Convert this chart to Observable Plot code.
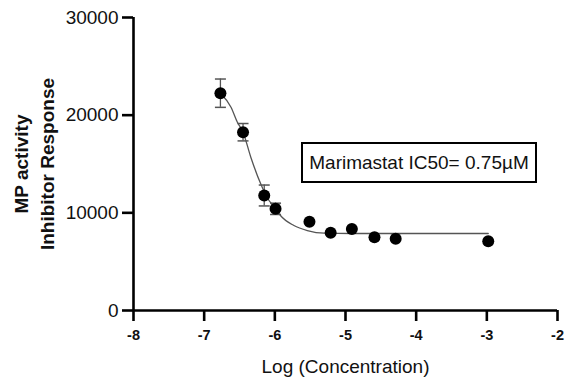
<!DOCTYPE html>
<html>
<head>
<meta charset="utf-8">
<script src="https://cdn.jsdelivr.net/npm/d3@7"></script>
<script src="https://cdn.jsdelivr.net/npm/@observablehq/plot@0.6"></script>
<style>
  html, body { margin: 0; padding: 0; background: #fff; }
  #wrap { position: relative; width: 565px; height: 381px; font-family: "Liberation Sans", Arial, sans-serif; }
  #note {
    position: absolute; left: 301px; top: 142px; width: 232px; height: 37px;
    border: 2px solid #000; display: flex; align-items: center; justify-content: center;
    font-size: 19px; color: #111; background: #fff; white-space: nowrap;
  }
</style>
</head>
<body>
<div id="wrap"></div>
<script>
// Measured points (log concentration, response, SEM)
const logConc  = [-6.77, -6.45, -6.15, -5.99, -5.51, -5.21, -4.91, -4.59, -4.29, -2.98];
const response = [22250, 18255, 11775, 10410, 9080, 7955, 8345, 7505, 7340, 7095];
const sem      = [1450, 890, 1070, 580, 0, 0, 0, 0, 0, 0];

// Fitted curve
const curveX = [-6.77, -6.62, -6.53, -6.45, -6.34, -6.20, -6.11, -5.99, -5.92, -5.73, -5.54, -5.30, -4.92, -2.98];
const curveY = [22250, 20815, 19280, 18255, 15695, 12970, 11570, 10445, 9725, 8705, 8190, 7915, 7885, 7885];

const xTicks = [-8, -7, -6, -5, -4, -3, -2];
const yTicks = [0, 10000, 20000, 30000];

const yTitle = "MP activity\nInhibitor Response";
const xTitle = "Log (Concentration)";
const noteText = "Marimastat IC50= 0.75\u00B5M";

const pts = logConc.map((x, i) => ({x, y: response[i], e: sem[i]}));
const errPts = pts.filter(d => d.e > 0);
const curve = curveX.map((x, i) => ({x, y: curveY[i]}));

const capSymbol = {
  draw(ctx, size) {
    const r = Math.sqrt(size / Math.PI);
    ctx.moveTo(-r, 0);
    ctx.lineTo(r, 0);
  }
};

const chart = Plot.plot({
  width: 565,
  height: 381,
  marginLeft: 133,
  marginRight: 8,
  marginTop: 17,
  marginBottom: 71,
  style: {fontFamily: "'Liberation Sans', Arial, sans-serif", fontSize: "19px", color: "#111", background: "#fff", overflow: "visible"},
  x: {domain: [-8, -2]},
  y: {domain: [0, 30000]},
  marks: [
    Plot.axisY({ticks: yTicks, tickSize: 11, tickPadding: 4, strokeWidth: 2.6, stroke: "#000", tickFormat: d => String(d), label: null, fontSize: 19}),
    Plot.axisX({ticks: xTicks, tickSize: 11, tickPadding: 8, strokeWidth: 2.6, stroke: "#000", tickFormat: d => String(d), label: null, fontSize: 14.5, fontWeight: "bold"}),
    Plot.ruleX([-8], {stroke: "#000", strokeWidth: 2.6}),
    Plot.ruleY([0], {stroke: "#000", strokeWidth: 2.6}),
    Plot.line(curve, {x: "x", y: "y", curve: "monotone-x", stroke: "#555", strokeWidth: 1.3}),
    Plot.ruleX(errPts, {x: "x", y1: d => d.y - d.e, y2: d => d.y + d.e, stroke: "#555", strokeWidth: 1.3}),
    Plot.dot(errPts, {x: "x", y: d => d.y + d.e, r: 5.5, symbol: capSymbol, stroke: "#555", strokeWidth: 1.5, fill: "none"}),
    Plot.dot(errPts, {x: "x", y: d => d.y - d.e, r: 5.5, symbol: capSymbol, stroke: "#555", strokeWidth: 1.5, fill: "none"}),
    Plot.dot(pts, {x: "x", y: "y", r: 6, fill: "#000", stroke: "none"}),
    Plot.text([yTitle], {frameAnchor: "left", textAnchor: "middle", lineAnchor: "middle", rotate: -90, dx: -101, fontWeight: "bold", fontSize: 19, lineHeight: 1.35, fill: "#111"}),
    Plot.text([xTitle], {frameAnchor: "bottom", lineAnchor: "middle", dy: 56, fontSize: 19, fill: "#111"})
  ]
});

const wrap = document.getElementById("wrap");
wrap.appendChild(chart);
const note = document.createElement("div");
note.id = "note";
note.textContent = noteText;
wrap.appendChild(note);
</script>
</body>
</html>
